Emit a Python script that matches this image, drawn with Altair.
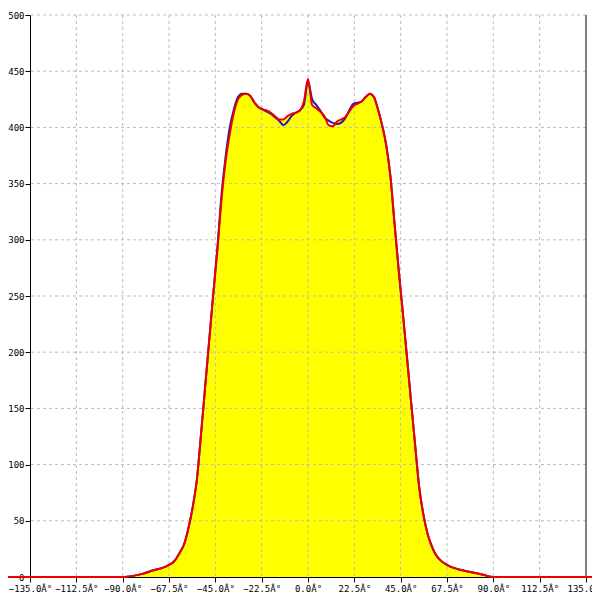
import altair as alt
import pandas as pd

# angle (degrees)
deg = [-160, -90, -85, -80, -75, -70, -67.5, -65, -62.5, -60, -58, -56, -54, -52, -50,
       -48, -46, -44, -42, -40, -38, -36, -34, -32, -30, -28, -26, -24, -22, -20,
       -18, -16, -14, -12, -10, -8, -6, -4, -2, 0, 2, 4, 6, 8, 10,
       12, 14, 16, 18, 20, 22, 24, 26, 28, 30, 32, 34, 36, 38, 40,
       42, 44, 46, 48, 50, 52, 54, 56, 58, 60, 62, 64, 67.5, 70, 75,
       80, 85, 90, 160]

red = [0, 0, 1, 3, 6, 8.5, 10.7, 14, 21, 30, 44, 62, 86, 126, 168,
       210, 252, 291, 336, 370, 394, 413, 425, 429, 430, 428, 422, 418, 416, 415,
       413, 410, 407, 407, 410, 412, 413, 415, 423, 443, 420, 417, 414, 410, 402,
       401, 405, 407, 409, 414, 419, 421, 423, 427, 430, 427, 416, 402, 384, 357,
       315, 274, 236, 197, 157, 118, 80, 56, 39, 28, 20, 15.5, 10.7, 8.5, 6,
       4, 2, 0, 0]

blue = [0, 0, 1, 3, 6, 8.5, 10.7, 14, 21, 30, 44, 62, 86, 126, 168,
        210, 252, 293, 340, 374, 400, 416, 427, 430, 430, 428, 422, 418, 416, 414,
        412, 409, 406, 402, 405, 410, 413, 415, 420, 441, 425, 420, 415, 409, 406,
        404, 403, 404, 408, 415, 421, 422, 423, 427, 430, 427, 416, 402, 384, 357,
        315, 274, 236, 197, 157, 118, 80, 56, 39, 28, 20, 15.5, 10.7, 8.5, 6,
        4, 2, 0, 0]

x_ticks = [-135, -112.5, -90, -67.5, -45, -22.5, 0, 22.5, 45, 67.5, 90, 112.5, 135]
y_ticks = [0, 50, 100, 150, 200, 250, 300, 350, 400, 450, 500]
x_grid = [-112.5, -90, -67.5, -45, -22.5, 0, 22.5, 45, 67.5, 90, 112.5]
y_grid = [50, 100, 150, 200, 250, 300, 350, 400, 450, 500]
deg_suffix = "\u00c2\u00b0"

df = pd.DataFrame({"deg": deg, "red": red, "blue": blue})

xs = alt.Scale(domain=[-135, 135], nice=False, zero=False)
ys = alt.Scale(domain=[0, 500], nice=False, zero=False)

font = "DejaVu Sans Mono"
xaxis = alt.Axis(values=x_ticks, labelExpr=f"format(datum.value, '.1f') + '{deg_suffix}'",
                 grid=False, title=None, domainColor="black", tickColor="black",
                 tickSize=5, labelFont=font, labelFontSize=9, labelColor="black",
                 labelPadding=2, labelOverlap=False, labelFlush=False, zindex=0)
yaxis = alt.Axis(values=y_ticks, grid=False, title=None, domainColor="black",
                 tickColor="black", tickSize=5, labelFont=font, labelFontSize=9,
                 labelColor="black", labelPadding=1, labelOverlap=False, labelFlush=False,
                 zindex=0)

area = alt.Chart(df).mark_area(color="#ffff00", interpolate="monotone", opacity=1).encode(
    x=alt.X("deg:Q", scale=xs, axis=xaxis),
    y=alt.Y("red:Q", scale=ys, axis=yaxis),
)

gx = alt.Chart(pd.DataFrame({"v": x_grid})).mark_rule(
    color="#bbbbbb", strokeDash=[3, 3], strokeWidth=1).encode(
    x=alt.X("v:Q", scale=xs, axis=xaxis))
gy = alt.Chart(pd.DataFrame({"v": y_grid})).mark_rule(
    color="#bbbbbb", strokeDash=[3, 3], strokeWidth=1).encode(
    y=alt.Y("v:Q", scale=ys, axis=yaxis))
border = alt.Chart(pd.DataFrame({"v": [135]})).mark_rule(
    color="black", strokeWidth=1).encode(
    x=alt.X("v:Q", scale=xs, axis=xaxis))

blue_line = alt.Chart(df).mark_line(color="#1a1ab8", strokeWidth=2, interpolate="monotone").encode(
    x=alt.X("deg:Q", scale=xs, axis=xaxis),
    y=alt.Y("blue:Q", scale=ys, axis=yaxis),
)
red_line = alt.Chart(df).mark_line(color="#ee0000", strokeWidth=2, interpolate="monotone").encode(
    x=alt.X("deg:Q", scale=xs, axis=xaxis),
    y=alt.Y("red:Q", scale=ys, axis=yaxis),
)

chart = alt.layer(area, gx, gy, border, blue_line, red_line).properties(
    width=556, height=562,
    autosize=alt.AutoSizeParams(type="none"),
    padding={"left": 22, "top": 7, "right": 6, "bottom": 15},
    background="white",
).configure_view(stroke=None)

chart.save("out.html", embed_options={"renderer": "svg", "actions": False})
